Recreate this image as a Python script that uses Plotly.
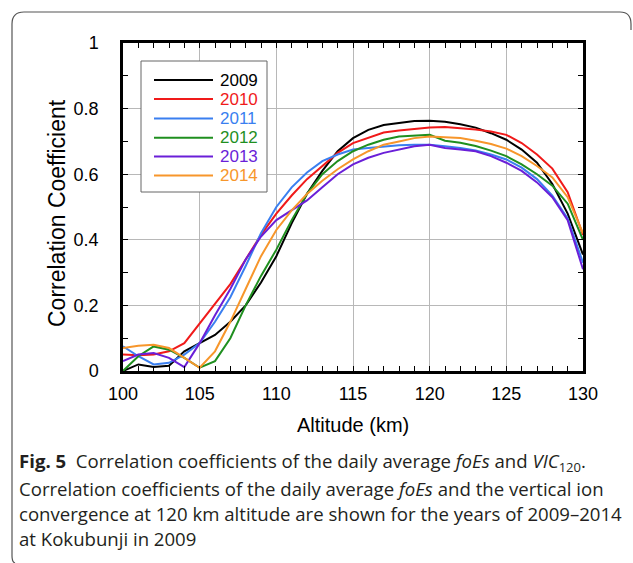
import plotly.graph_objects as go

altitude = list(range(100, 131))
years = ["2009", "2010", "2011", "2012", "2013", "2014"]
colors = ["#000000", "#f01a1a", "#3a7ff0", "#1f8f1f", "#6a1fd8", "#f7962b"]

r2009 = [0.000, 0.020, 0.012, 0.016, 0.060, 0.085, 0.110, 0.150, 0.200, 0.270, 0.350,
         0.450, 0.540, 0.610, 0.670, 0.710, 0.735, 0.750, 0.757, 0.762, 0.763,
         0.760, 0.752, 0.742, 0.725, 0.705, 0.675, 0.635, 0.570, 0.480, 0.355]
r2010 = [0.050, 0.048, 0.050, 0.060, 0.085, 0.145, 0.205, 0.265, 0.340, 0.415, 0.480,
         0.535, 0.585, 0.625, 0.665, 0.695, 0.712, 0.727, 0.733, 0.738, 0.742,
         0.744, 0.741, 0.736, 0.730, 0.720, 0.695, 0.660, 0.617, 0.545, 0.415]
r2011 = [0.075, 0.045, 0.020, 0.025, 0.050, 0.085, 0.150, 0.225, 0.320, 0.420, 0.500,
         0.560, 0.605, 0.640, 0.660, 0.675, 0.680, 0.685, 0.688, 0.690, 0.690,
         0.685, 0.680, 0.672, 0.660, 0.645, 0.620, 0.585, 0.535, 0.465, 0.330]
r2012 = [0.000, 0.045, 0.075, 0.065, 0.040, 0.010, 0.030, 0.100, 0.200, 0.290, 0.370,
         0.460, 0.540, 0.600, 0.640, 0.670, 0.690, 0.705, 0.715, 0.717, 0.720,
         0.702, 0.696, 0.686, 0.672, 0.655, 0.630, 0.600, 0.565, 0.510, 0.400]
r2013 = [0.030, 0.050, 0.055, 0.040, 0.012, 0.085, 0.170, 0.250, 0.340, 0.410, 0.460,
         0.490, 0.520, 0.560, 0.600, 0.630, 0.650, 0.665, 0.675, 0.685, 0.690,
         0.680, 0.675, 0.670, 0.655, 0.635, 0.610, 0.575, 0.530, 0.460, 0.310]
r2014 = [0.070, 0.077, 0.080, 0.070, 0.040, 0.010, 0.060, 0.150, 0.250, 0.350, 0.430,
         0.490, 0.540, 0.580, 0.615, 0.645, 0.670, 0.690, 0.700, 0.710, 0.715,
         0.713, 0.710, 0.702, 0.692, 0.678, 0.655, 0.625, 0.590, 0.530, 0.420]
series = [r2009, r2010, r2011, r2012, r2013, r2014]

x_ticks = [100, 105, 110, 115, 120, 125, 130]
y_ticks = [0, 0.2, 0.4, 0.6, 0.8, 1]

caption_lines = [
    "<b>Fig. 5</b>  Correlation coefficients of the daily average <i>foEs</i> and <i>VIC</i><sub>120</sub>.",
    "Correlation coefficients of the daily average <i>foEs</i> and the vertical ion",
    "convergence at 120 km altitude are shown for the years of 2009\u20132014",
    "at Kokubunji in 2009",
]

# page geometry (pixels)
WIDTH, HEIGHT = 633, 563
L, R, T, B = 123, 583, 43, 371
PW, PH = R - L, B - T


def px(x):
    return (x - L) / PW


def py(y):
    return (B - y) / PH


fig = go.Figure()
for yr, col, vals in zip(years, colors, series):
    fig.add_trace(go.Scatter(x=altitude, y=vals, mode="lines", name=yr,
                             line=dict(color=col, width=2), showlegend=False))

axis_font = dict(family="Liberation Sans, Arial, sans-serif", size=18, color="black")

fig.update_layout(
    width=WIDTH, height=HEIGHT,
    margin=dict(l=L, r=WIDTH - R, t=T, b=HEIGHT - B, pad=0),
    paper_bgcolor="white", plot_bgcolor="white",
    font=axis_font,
    xaxis=dict(range=[100, 130], tickvals=x_ticks, showgrid=True, gridcolor="#b8b8b8",
               gridwidth=1, showline=True, linecolor="black", linewidth=2.5, mirror="ticks",
               ticks="inside", ticklen=5, tickcolor="black", tickfont=axis_font,
               ticklabelstandoff=5, zeroline=False,
               minor=dict(dtick=1, ticks="inside", ticklen=5, tickcolor="black", showgrid=False)),
    yaxis=dict(range=[0, 1], tickvals=y_ticks, showgrid=True, gridcolor="#b8b8b8",
               gridwidth=1, showline=True, linecolor="black", linewidth=2.5, mirror="ticks",
               ticks="inside", ticklen=5, tickcolor="black", tickfont=axis_font,
               ticklabelstandoff=18, zeroline=False,
               minor=dict(dtick=0.1, ticks="inside", ticklen=5, tickcolor="black", showgrid=False)),
)

shapes = []
annotations = []

# legend box
shapes.append(dict(type="rect", xref="paper", yref="paper", x0=px(141), x1=px(267),
                   y0=py(192), y1=py(61), line=dict(color="#666666", width=1),
                   fillcolor="white", layer="above"))
row_y = [80, 99, 118.5, 137.7, 156.6, 175.6]
for yr, col, ry in zip(years, colors, row_y):
    shapes.append(dict(type="line", xref="paper", yref="paper", x0=px(154), x1=px(213),
                       y0=py(ry), y1=py(ry), line=dict(color=col, width=2), layer="above"))
    annotations.append(dict(text=yr, xref="paper", yref="paper", x=px(218), y=py(ry),
                            xanchor="left", yanchor="middle", showarrow=False,
                            font=dict(family="Liberation Sans, Arial, sans-serif", size=17, color=col)))

# axis titles
annotations.append(dict(text="Altitude (km)", xref="paper", yref="paper", x=px(353), y=py(425),
                        xanchor="center", yanchor="middle", showarrow=False,
                        font=dict(family="Liberation Sans, Arial, sans-serif", size=20, color="black")))
annotations.append(dict(text="Correlation Coefficient", xref="paper", yref="paper", x=px(57), y=py(213),
                        xanchor="center", yanchor="middle", showarrow=False, textangle=-90,
                        font=dict(family="Liberation Sans, Arial, sans-serif", size=23, color="black")))

# caption
cap_y = [462, 488, 513, 538]
for line, cy in zip(caption_lines, cap_y):
    annotations.append(dict(text=line, xref="paper", yref="paper", x=px(17), y=py(cy),
                            xanchor="left", yanchor="middle", showarrow=False,
                            font=dict(family="Open Sans, Noto Sans, sans-serif", size=18.6, color="#231f20")))

# outer rounded frame
path = (f"M {px(12)},{py(556)} L {px(12)},{py(24)} Q {px(12)},{py(12)} {px(24)},{py(12)} "
        f"L {px(620)},{py(12)} Q {px(631)},{py(12)} {px(631)},{py(24)} L {px(631)},{py(30)}")
shapes.append(dict(type="path", xref="paper", yref="paper", path=path,
                   line=dict(color="#555555", width=1.2), layer="above"))
shapes.append(dict(type="path", xref="paper", yref="paper",
                   path=f"M {px(12)},{py(556)} Q {px(12)},{py(562)} {px(15)},{py(563)}",
                   line=dict(color="#555555", width=1.2), layer="above"))

fig.update_layout(shapes=shapes, annotations=annotations)
fig.write_html("out.html")
